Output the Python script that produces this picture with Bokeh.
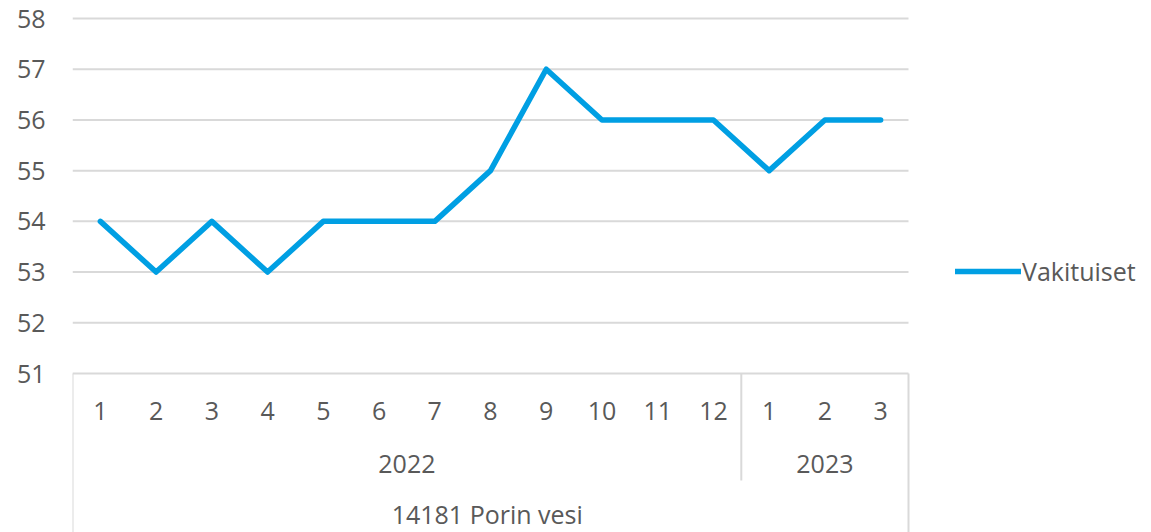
from bokeh.plotting import figure
from bokeh.models import FixedTicker, ColumnDataSource, Legend, LegendItem
from bokeh.core.properties import value
from bokeh.embed import file_html
from bokeh.resources import INLINE

# ---- data ----
months = ["1", "2", "3", "4", "5", "6", "7", "8", "9", "10", "11", "12", "1", "2", "3"]
years = ["2022"] * 12 + ["2023"] * 3
values = [54, 53, 54, 53, 54, 54, 54, 55, 57, 56, 56, 56, 55, 56, 56]
series_name = "Vakituiset"
group_label = "14181  Porin vesi"
y_ticks = [51, 52, 53, 54, 55, 56, 57, 58]

FONT = "Open Sans"
FS = "25px"
TXT = "#595959"
GRID = "#D9D9D9"
LINE = "#009FE3"

n = len(months)
xs = [i + 0.5 for i in range(n)]

# year groups
year_names, year_starts, year_ends = [], [], []
for i, yv in enumerate(years):
    if not year_names or year_names[-1] != yv:
        year_names.append(yv)
        year_starts.append(i)
        year_ends.append(i + 1)
    else:
        year_ends[-1] = i + 1
year_centers = [(s + e) / 2 for s, e in zip(year_starts, year_ends)]

# geometry
W, H = 1151, 532
LEFT, TOP = 72, 2
cat_px = 836 / n
unit_px = 355 / 7
frame_w = W - LEFT
frame_h = H - TOP
x_end = frame_w / cat_px
y_top = 58 + 16 / unit_px
y_bottom = y_top - frame_h / unit_px

p = figure(width=W, height=H, output_backend="svg", toolbar_location=None,
           x_range=(0, x_end), y_range=(y_bottom, y_top),
           x_axis_location=None, min_border_left=LEFT, min_border_right=0,
           min_border_top=TOP, min_border_bottom=0)
p.outline_line_color = None
p.grid.visible = False
p.background_fill_color = "white"
p.border_fill_color = "white"

ax = p.yaxis[0]
ax.ticker = FixedTicker(ticks=y_ticks)
ax.axis_line_color = None
ax.major_tick_line_color = None
ax.minor_tick_line_color = None
ax.major_label_text_font = FONT
ax.major_label_text_font_size = FS
ax.major_label_text_color = TXT
ax.major_label_standoff = 21

# horizontal grid lines (within plot area only)
p.segment(x0=[0] * len(y_ticks), x1=[n] * len(y_ticks), y0=y_ticks, y1=y_ticks,
          line_color=GRID, line_width=2)

# category axis separators
y_axis_base = y_ticks[0]
y_year_row_end = y_top - 478 / unit_px
sep_x0 = [0, n] + [year_ends[k] for k in range(len(year_ends) - 1)]
sep_y1 = [y_bottom, y_bottom] + [y_year_row_end] * (len(year_ends) - 1)
p.segment(x0=sep_x0, x1=sep_x0, y0=[y_axis_base] * len(sep_x0), y1=sep_y1,
          line_color=GRID, line_width=2)

# category labels
y_month = y_top - 408 / unit_px
y_year = y_top - 461 / unit_px
y_group = y_top - 511 / unit_px
p.text(x=xs, y=[y_month] * n, text=months, text_font=value(FONT),
       text_font_size=FS, text_color=TXT, text_align="center", text_baseline="middle")
p.text(x=year_centers, y=[y_year] * len(year_names), text=year_names, text_font=value(FONT),
       text_font_size=FS, text_color=TXT, text_align="center", text_baseline="middle")
p.text(x=[n / 2], y=[y_group], text=[group_label], text_font=value(FONT),
       text_font_size=FS, text_color=TXT, text_align="center", text_baseline="middle")

# series line
src = ColumnDataSource(dict(x=xs, y=values))
r = p.line("x", "y", source=src, line_color=LINE, line_width=5.5,
           line_join="round", line_cap="round")

legend = Legend(items=[LegendItem(label=series_name, renderers=[r])],
                location=(883, 244), padding=0, margin=0, spacing=0,
                glyph_width=66, glyph_height=20, label_height=20, label_standoff=1,
                label_text_font=FONT, label_text_font_size=FS, label_text_color=TXT,
                border_line_color=None, background_fill_alpha=0)
p.add_layout(legend)

open("out.html", "w").write(file_html(p, INLINE))
